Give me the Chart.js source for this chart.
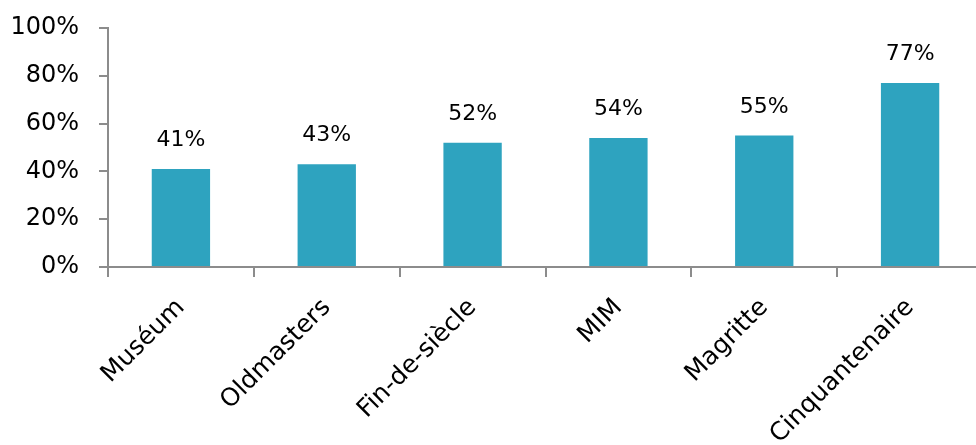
<!DOCTYPE html>
<html><head><meta charset="utf-8">
<script src="https://cdn.jsdelivr.net/npm/chart.js@4"></script>
<style>
html,body{margin:0;padding:0;overflow:hidden;background:#fff;}
#wrap{width:984px;height:445px;position:relative;}
</style></head>
<body><div id="wrap"><canvas id="c"></canvas></div>
<script>
const categories = ["Muséum","Oldmasters","Fin-de-siècle","MIM","Magritte","Cinquantenaire"];
const values = [41,43,52,54,55,77];
const yTicks = [0,20,40,60,80,100];

const FONT = "'DejaVu Sans', sans-serif";
const AXIS = '#8c8c8c';

const labelPlugin = {
  id:'barLabels',
  afterDatasetsDraw(chart){
    const ctx = chart.ctx;
    const meta = chart.getDatasetMeta(0);
    ctx.save();
    ctx.font = '22px ' + FONT;
    ctx.fillStyle = '#000';
    ctx.textAlign = 'center';
    ctx.textBaseline = 'alphabetic';
    meta.data.forEach((bar,i)=>{
      ctx.fillText(values[i] + '%', bar.x, bar.y - 23);
    });
    ctx.restore();
  }
};

new Chart(document.getElementById('c'), {
  type:'bar',
  data:{ labels: categories, datasets:[{ data: values, backgroundColor:'#2ea3bf', borderWidth:0, barPercentage:0.4, categoryPercentage:1 }]},
  options:{
    responsive:true, maintainAspectRatio:false, animation:false,
    layout:{ padding:{ top:28, right:1, left:0, bottom:0 } },
    plugins:{ legend:{display:false}, tooltip:{enabled:false} },
    scales:{
      x:{
        grid:{ display:true, drawOnChartArea:false, offset:true, color:AXIS, tickLength:10, lineWidth:2 },
        border:{ display:true, color:AXIS, width:2 },
        ticks:{ color:'#000', font:{ family:FONT, size:25 }, minRotation:45, maxRotation:45, padding:16 },
        afterFit(s){ s.height = 178; s.paddingLeft = 0; s.paddingRight = 0; }
      },
      y:{
        min:0, max:100,
        afterBuildTicks(s){ s.ticks = yTicks.map(v=>({value:v})); },
        grid:{ display:true, drawOnChartArea:false, color:AXIS, tickLength:9, lineWidth:2 },
        border:{ display:true, color:AXIS, width:2 },
        ticks:{ color:'#000', font:{ family:FONT, size:24 }, padding:20, callback:v=>v+'%' },
        afterFit(s){ s.width = 108; s.paddingTop = 0; s.paddingBottom = 0; }
      }
    }
  },
  plugins:[labelPlugin]
});
</script></body></html>
